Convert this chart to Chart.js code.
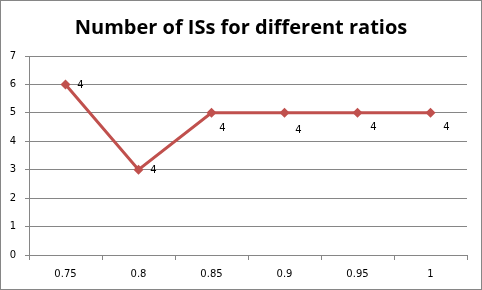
<!DOCTYPE html>
<html>
<head>
<meta charset="utf-8">
<script src="https://cdn.jsdelivr.net/npm/chart.js@4/dist/chart.umd.min.js"></script>
<style>
  html, body { margin: 0; padding: 0; background: #fff; }
  #wrap { width: 482px; height: 290px; }
</style>
</head>
<body>
<div id="wrap"><canvas id="chart" width="482" height="290"></canvas></div>
<script>
// data
const ratios = ['0.75', '0.8', '0.85', '0.9', '0.95', '1'];
const isCounts = [6, 3, 5, 5, 5, 5];
const pointLabels = ['4', '4', '4', '4', '4', '4'];
const yTicks = [0, 1, 2, 3, 4, 5, 6, 7];

const gridGray = '#868686';
const lineRed = '#C0504D';

// label offsets relative to each point (excel placed them a bit randomly)
const labelOffsets = [[15, 1], [15, 1], [11, 16], [14, 18], [16, 15], [16, 15]];

const pointLabelPlugin = {
  id: 'pointLabels',
  afterDatasetsDraw(chart) {
    const ctx = chart.ctx;
    const meta = chart.getDatasetMeta(0);
    ctx.save();
    ctx.font = '10px "DejaVu Sans"';
    ctx.fillStyle = '#000';
    ctx.textAlign = 'center';
    ctx.textBaseline = 'middle';
    meta.data.forEach((pt, i) => {
      const off = labelOffsets[i];
      ctx.fillText(pointLabels[i], pt.x + off[0], pt.y + off[1]);
    });
    ctx.restore();
  }
};

const borderPlugin = {
  id: 'outerBorder',
  afterDraw(chart) {
    const ctx = chart.ctx;
    ctx.save();
    ctx.strokeStyle = gridGray;
    ctx.lineWidth = 1;
    ctx.strokeRect(0.5, 0.5, chart.width - 1, chart.height - 1);
    ctx.restore();
  }
};

new Chart(document.getElementById('chart').getContext('2d'), {
  type: 'line',
  data: {
    labels: ratios,
    datasets: [{
      label: 'Number of ISs',
      data: isCounts,
      borderColor: lineRed,
      backgroundColor: lineRed,
      borderWidth: 3,
      tension: 0,
      pointStyle: 'rectRot',
      pointRadius: 5,
      pointBackgroundColor: lineRed,
      pointBorderColor: lineRed,
      pointBorderWidth: 0
    }]
  },
  options: {
    responsive: false,
    animation: false,
    layout: { padding: { left: 0, right: 0, top: 1, bottom: 1 } },
    plugins: {
      legend: { display: false },
      tooltip: { enabled: false },
      title: {
        display: true,
        text: 'Number of ISs for different ratios',
        color: '#000',
        font: { family: '"Open Sans"', size: 20, weight: 'bold' },
        padding: { top: 15, bottom: 16 }
      }
    },
    scales: {
      x: {
        offset: true,
        grid: {
          offset: true,
          drawOnChartArea: false,
          drawTicks: true,
          tickLength: 5,
          color: gridGray
        },
        border: { color: gridGray },
        ticks: {
          color: '#000',
          font: { family: '"DejaVu Sans"', size: 10 },
          padding: 8,
          maxRotation: 0
        },
        afterFit(scale) { scale.height = 34; }
      },
      y: {
        min: 0,
        max: 7,
        afterBuildTicks(scale) { scale.ticks = yTicks.map(v => ({ value: v })); },
        grid: {
          color: gridGray,
          tickLength: 4
        },
        border: { color: gridGray },
        ticks: {
          color: '#000',
          font: { family: '"DejaVu Sans"', size: 10 },
          padding: 9
        },
        afterFit(scale) { scale.width = 29; }
      },
      // empty right-hand axis, only keeps a margin so the title stays centred
      yRight: {
        position: 'right',
        display: true,
        grid: { display: false },
        border: { display: false },
        ticks: { display: false },
        afterFit(scale) { scale.width = 15; }
      }
    }
  },
  plugins: [pointLabelPlugin, borderPlugin]
});
</script>
</body>
</html>
